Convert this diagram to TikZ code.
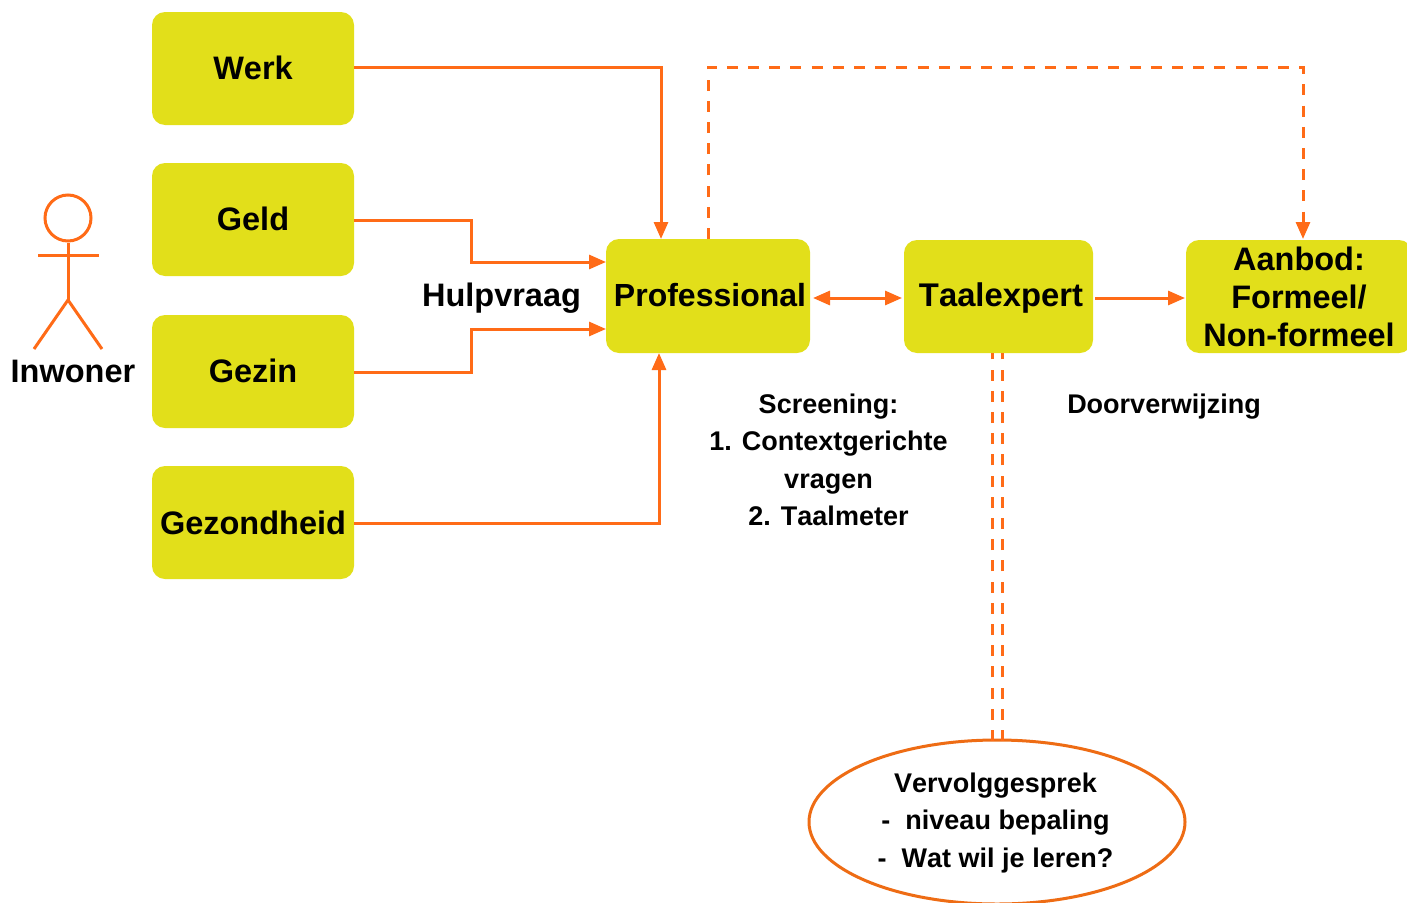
\documentclass[tikz,border=0pt]{standalone}
\usepackage{fontspec}
\setmainfont[Kerning=Off]{Liberation Sans}
\usetikzlibrary{arrows.meta,shapes.geometric}
\definecolor{boxfill}{HTML}{E2DF1A}
\definecolor{lineor}{HTML}{FF6B17}
\definecolor{ellor}{HTML}{EE6C14}
\tikzset{
  x=1pt,y=-1pt,
  big/.style={font=\fontsize{32.5}{38}\selectfont\bfseries},
  small/.style={font=\fontsize{27}{37.5}\selectfont\bfseries},
  box/.style={big,fill=boxfill,rounded corners=13,inner sep=0pt,align=center,text=black},
  conn/.style={draw=lineor,line width=3pt},
  arr/.style={conn,-{Triangle[length=17pt,width=14pt]}},
  arrboth/.style={conn,{Triangle[length=17pt,width=14pt]}-{Triangle[length=17pt,width=14pt]}},
  dashline/.style={dash pattern=on 11pt off 10.2pt},
  lab/.style={small,align=center,inner sep=0pt},
}
\begin{document}
\begin{tikzpicture}
\useasboundingbox (0,0) rectangle (1407,902);
% boxes
\node[box,minimum width=202pt,minimum height=113pt] (werk) at (253,68.5) {\raisebox{2pt}{Werk}};
\node[box,minimum width=202pt,minimum height=113pt] (geld) at (253,219.5) {\raisebox{1pt}{Geld}};
\node[box,minimum width=202pt,minimum height=113pt] (gezin) at (253,371.5) {\raisebox{1pt}{Gezin}};
\node[box,minimum width=202pt,minimum height=113pt] (gezond) at (253,522.5) {Gezondheid};
\node[box,minimum width=204pt,minimum height=114pt] (prof) at (708,296) {};
\node[font=\fontsize{32}{38}\selectfont\bfseries,inner sep=0pt] at (710,295.5) {Professional};
\node[box,minimum width=189pt,minimum height=113pt] (taal) at (998.5,296.5) {};
\node[font=\fontsize{32.8}{38}\selectfont\bfseries,inner sep=0pt] at (1001,298) {Taalexpert};
\node[box,minimum width=226pt,minimum height=113pt] (aanbod) at (1299,296.5) {};
\node[big,inner sep=0pt,align=center] at (1299,297) {Aanbod:\\Formeel/\\Non-formeel};
% ellipse
\node[ellipse,draw=ellor,line width=3pt,fill=white,minimum width=376pt,minimum height=164pt,inner sep=0pt] (verv) at (997,822) {};
\node[lab] at (995.5,823) {Vervolggesprek\\-\ \ niveau bepaling\\-\ \ Wat wil je leren?};
% actor
\node[circle,draw=lineor,line width=3pt,minimum size=46pt,inner sep=0pt] (head) at (68,218) {};
\coordinate (hip) at (68,300);
\coordinate (armL) at (38,255.5);
\coordinate (armR) at (99,255.5);
\coordinate (footL) at (34,349);
\coordinate (footR) at (102,349);
\draw[conn] (head.south) -- (hip);
\draw[conn] (armL) -- (armR);
\draw[conn] (footL) -- (hip) -- (footR);
\node[big,inner sep=0pt] (inw) at (73,371) {Inwoner};
% labels
\node[big,inner sep=0pt] (hulp) at (501.5,298) {Hulpvraag};
\node[lab] (scr) at (828.5,460) {Screening:\\1. Contextgerichte\\vragen\\2. Taalmeter};
\node[lab] (door) at (1164,407) {Doorverwijzing};
% connector ends
\coordinate (p1) at (661,239);
\coordinate (p2) at (606,262);
\coordinate (p3) at (606,329);
\coordinate (p4) at (659,353);
\coordinate (gmid) at (471,262);
\coordinate (zmid) at (471,329);
\coordinate (q1) at (708,239);
\coordinate (q2) at (1303,239);
\coordinate (top) at (708,67);
\coordinate (t1) at (992,353);
\coordinate (t2) at (1002,353);
\coordinate (e1) at (992,741);
\coordinate (e2) at (1002,741);
\coordinate (pe) at (813,298);
\coordinate (te) at (902,298);
\coordinate (ts) at (1095,298);
\coordinate (ae) at (1185,298);
% connectors
\draw[arr] ([yshift=1pt]werk.east) -| (p1);
\draw[arr] ([yshift=-1pt]geld.east) -| (gmid) -- (p2);
\draw[arr] ([yshift=-0.5pt]gezin.east) -| (zmid) -- (p3);
\draw[arr] ([yshift=-0.5pt]gezond.east) -| (p4);
\draw[arrboth] (pe) -- (te);
\draw[arr] (ts) -- (ae);
\draw[arr,dashline] (q1) -- (top) -| (q2);
\draw[conn,dashline] (e1) -- (t1);
\draw[conn,dashline] (e2) -- (t2);
\end{tikzpicture}
\end{document}
